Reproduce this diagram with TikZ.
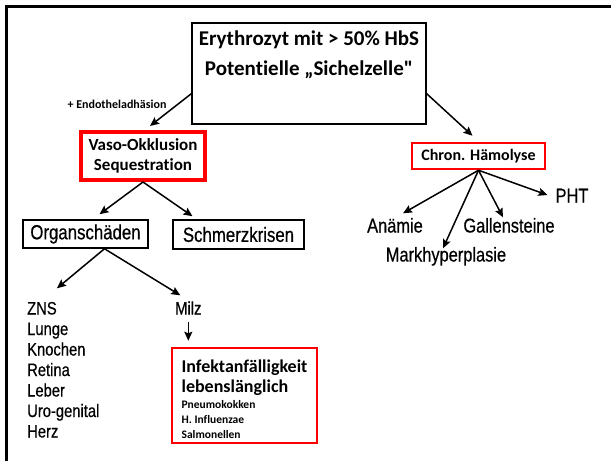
\documentclass[tikz,border=0pt]{standalone}
\usepackage{fontspec}
\setmainfont{Carlito}[Ligatures=NoCommon]
\newfontfamily\narrowfont{Liberation Sans}[FakeStretch=0.82,FakeBold=0.5]
\newcommand{\geradequote}{\XeTeXglyph\XeTeXcharglyph"22\relax}
\usepackage{xcolor}
\usepackage{tikz}
\usetikzlibrary{positioning,arrows.meta,calc}

\begin{document}
\begin{tikzpicture}[x=1pt,y=-1pt,
    pfeil/.style={-{Stealth[length=9pt,width=8pt,inset=1.5pt]}, line width=1.5pt},
    blackbox/.style={draw, line width=1.5pt, inner sep=0pt},
    redbox/.style={draw=red, line width=2.5pt, inner sep=0pt},
    term/.style={font=\narrowfont\fontsize{18}{20}\selectfont, inner sep=0pt, text height=13pt, text depth=4pt},
    folge/.style={term, font=\narrowfont\fontsize{20}{22}\selectfont}]

    \useasboundingbox (0,0) rectangle (611,461);
    % Rahmen
    \draw[line width=3pt] (6.5,461) -- (6.5,6.5) -- (611,6.5);

    % Erythrozyt
    \node[blackbox, minimum width=234pt, minimum height=101pt] (ery) at (309,73.5) {};
    \node[font=\bfseries\fontsize{21}{30}\selectfont, align=center, inner sep=0pt, below=8pt of ery.north] (erytxt) {Erythrozyt mit > 50\% HbS\\Potentielle „Sichelzelle\geradequote};
    \node[font=\bfseries\fontsize{12}{13}\selectfont] (endo) at (117,104) {+ Endotheladhäsion};

    % Vaso-Okklusion
    \node[redbox, line width=4pt, minimum width=124pt, minimum height=48pt, align=center, font=\bfseries\fontsize{17}{20}\selectfont] (vaso) at (143,156) {Vaso-Okklusion\\Sequestration};
    \node[blackbox, minimum width=125pt, minimum height=28pt, font=\narrowfont\fontsize{20.5}{22}\selectfont] (organ) at (85.5,234) {Organschäden};
    \node[blackbox, minimum width=131pt, minimum height=29pt, font=\narrowfont\fontsize{20.5}{22}\selectfont] (schmerz) at (238.5,234.5) {Schmerzkrisen};

    % Haemolyse
    \node[redbox, minimum width=133pt, minimum height=26pt, font=\bfseries\fontsize{16}{18}\selectfont] (chron) at (478.5,156) {Chron. Hämolyse};
    \node[folge] (anaemie) at (395,228) {Anämie};
    \node[folge] (markhyp) at (446,257) {Markhyperplasie};
    \node[folge] (gallen) at (509,228) {Gallensteine};
    \node[folge] (pht) at (572,198) {PHT};

    % Organe
    \foreach \i/\name/\txt in {0/zns/ZNS, 1/lunge/Lunge, 2/knochen/Knochen, 3/retina/Retina,
                               4/leber/Leber, 5/uro/Uro-genital, 6/herz/Herz}
        \node[term, anchor=west] (\name) at (27,310+20.5*\i) {\txt};
    \node[term, anchor=west] (milz) at (175,310) {Milz};

    % Infekt
    \node[redbox, minimum width=145pt, minimum height=95pt, align=left, font=\bfseries] (infekt) at (244.5,395.5)
        {{\fontsize{18}{21}\selectfont\rule{0pt}{20pt}Infektanfälligkeit}\\[3pt]
         {\fontsize{18}{21}\selectfont lebenslänglich}\\[4pt]
         {\fontsize{11.5}{14}\selectfont Pneumokokken}\\[3pt]
         {\fontsize{11.5}{14}\selectfont H. Influenzae}\\[3pt]
         {\fontsize{11.5}{14}\selectfont Salmonellen}};

    % Pfeile
    \draw[pfeil] ([yshift=31pt]ery.south west) -- ([xshift=7pt,yshift=4pt]vaso.north);
    \draw[pfeil] ([yshift=31pt]ery.south east) -- ([xshift=-6pt,yshift=6pt]chron.north);
    \foreach \ziel/\dx/\dy in {anaemie/8/6, markhyp/-3/0, gallen/-6/2}
        \draw[pfeil] (chron.south) -- ([xshift=\dx pt,yshift=\dy pt]\ziel.north);
    \draw[pfeil] (chron.south) -- ([xshift=-8pt,yshift=3pt]pht.west);
    \draw[pfeil] (vaso.south) -- ([xshift=14pt,yshift=5pt]organ.north);
    \draw[pfeil] (vaso.south) -- ([xshift=-46pt,yshift=3pt]schmerz.north);
    \draw[pfeil] ([xshift=19pt]organ.south) -- ([xshift=15pt,yshift=13pt]zns.north);
    \draw[pfeil] ([xshift=19pt]organ.south) -- ([xshift=-8pt,yshift=6pt]milz.north);
    \draw[pfeil, shorten <=3.5pt, shorten >=6pt] (milz.south) -- (milz.south |- infekt.north);
\end{tikzpicture}
\end{document}
